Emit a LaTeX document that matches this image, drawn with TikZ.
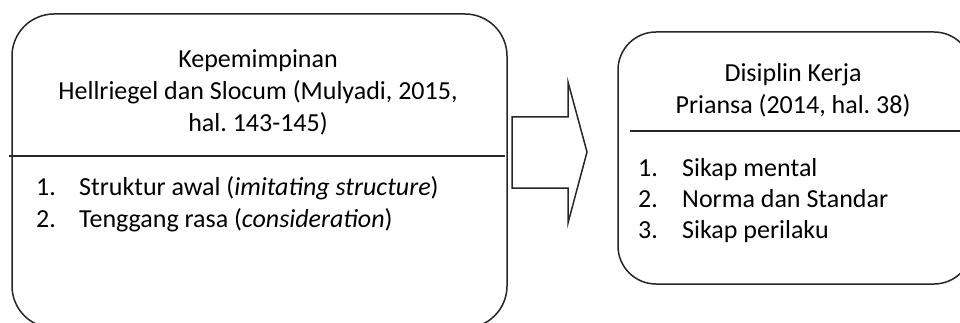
\documentclass[tikz,border=0pt]{standalone}
\usepackage{fontspec}
\setmainfont{Carlito}
\frenchspacing
\begin{document}
\begin{tikzpicture}[x=1pt,y=-1pt,
  boxline/.style={draw=black!85,line width=1.5pt},
  txt/.style={inner sep=0pt,font=\fontsize{26}{32}\selectfont,text=black},
  item/.style={txt,anchor=base west}]
\useasboundingbox (0,0) rectangle (960,323);
\clip (0,0) rectangle (960,323);
% boxes
\draw[boxline,rounded corners=42pt] (12,14) rectangle (507,328);
\draw[boxline,rounded corners=38pt] (618,32) rectangle (972,284);
\coordinate (l1) at (9,156); \coordinate (l2) at (505,156);
\coordinate (r1) at (630,131); \coordinate (r2) at (965,131);
\draw[boxline] (l1) -- (l2);
\draw[boxline] (r1) -- (r2);
% arrow
\draw[boxline,line join=miter] (512,117) -- (568,117) -- (568,82) -- (587,152) -- (568,223) -- (568,188) -- (512,188) -- cycle;
% left texts
\node[txt,align=center] (lt) at (258,92) {Kepemimpinan\\Hellriegel dan Slocum (Mulyadi, 2015,\\hal. 143-145)};
\node[item] (ln1) at (36,196) {1.};
\node[item] (li1) at (79,196) {Struktur awal (\textit{imitating structure})};
\node[item] (ln2) at (36,227) {2.};
\node[item] (li2) at (79,227) {Tenggang rasa (\textit{consideration})};
% right texts
\node[txt,align=center] (rt) at (793,90) {Disiplin Kerja\\Priansa (2014, hal. 38)};
\node[item] (rn1) at (638,176) {1.};
\node[item] (ri1) at (682,176) {Sikap mental};
\node[item] (rn2) at (638,207) {2.};
\node[item] (ri2) at (682,207) {Norma dan Standar};
\node[item] (rn3) at (638,238) {3.};
\node[item] (ri3) at (682,238) {Sikap perilaku};
\end{tikzpicture}
\end{document}
